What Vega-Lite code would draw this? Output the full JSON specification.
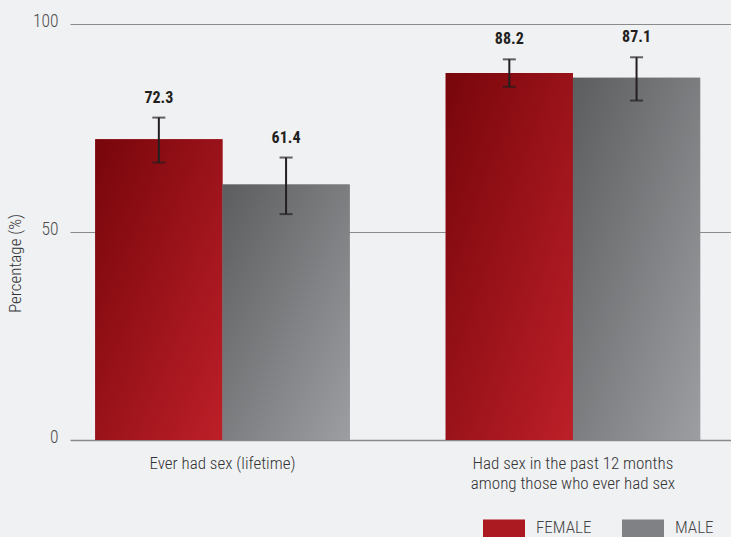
{
  "$schema": "https://vega.github.io/schema/vega-lite/v6.json",
  "width": 661,
  "height": 416,
  "autosize": {"type": "none"},
  "padding": {"left": 70, "top": 24, "right": 0, "bottom": 97},
  "background": "#f0f1f3",
  "config": {
    "view": {"stroke": null},
    "font": "Roboto Condensed, Liberation Sans Narrow, Roboto"
  },
  "data": {
    "values": [
      {"measure": "Ever had sex (lifetime)", "sex": "FEMALE", "value": 72.3, "lower": 66.7, "upper": 77.5},
      {"measure": "Ever had sex (lifetime)", "sex": "MALE", "value": 61.4, "lower": 54.3, "upper": 67.9},
      {"measure": "Had sex in the past 12 months among those who ever had sex", "sex": "FEMALE", "value": 88.2, "lower": 84.9, "upper": 91.5},
      {"measure": "Had sex in the past 12 months among those who ever had sex", "sex": "MALE", "value": 87.1, "lower": 81.6, "upper": 92.0}
    ]
  },
  "encoding": {
    "x": {
      "field": "measure",
      "type": "nominal",
      "sort": null,
      "scale": {"paddingInner": 0.274, "paddingOuter": 0.08, "align": 0.45},
      "axis": {
        "title": null,
        "domain": false,
        "ticks": false,
        "labelAngle": 0,
        "labelPadding": 15,
        "labelFontSize": 17,
        "labelFontWeight": 300,
        "labelColor": "#333333",
        "labelLineHeight": 20,
        "labelLimit": 400,
        "labelExpr": "datum.value == 'Had sex in the past 12 months among those who ever had sex' ? ['Had sex in the past 12 months', 'among those who ever had sex'] : datum.label"
      }
    },
    "xOffset": {
      "field": "sex",
      "type": "nominal",
      "sort": ["FEMALE", "MALE"],
      "scale": {"domain": ["FEMALE", "MALE"], "paddingInner": 0, "paddingOuter": 0}
    }
  },
  "layer": [
    {
      "mark": {"type": "bar"},
      "encoding": {
        "y": {
          "field": "value",
          "type": "quantitative",
          "scale": {"domain": [0, 100]},
          "axis": {
            "values": [0, 50, 100],
            "grid": true,
            "gridColor": "#8a8a8a",
            "gridWidth": {"condition": {"test": "datum.value === 0", "value": 1.6}, "value": 1},
            "domain": false,
            "ticks": false,
            "labelPadding": 12,
            "labelOffset": -3,
            "labelFontSize": 17.5,
            "labelFontWeight": 300,
            "labelColor": "#4d4d4d",
            "title": "Percentage (%)",
            "titleFontSize": 17,
            "titleFontWeight": 300,
            "titleColor": "#333333",
            "titleX": -50,
            "titleY": 239,
            "titleAngle": -90,
            "titleAlign": "center",
            "titleBaseline": "alphabetic"
          }
        },
        "fill": {
          "field": "sex",
          "type": "nominal",
          "scale": {"domain": ["FEMALE", "MALE"], "range": ["#ab1921", "#808184"]},
          "legend": {
            "orient": "none",
            "legendX": 413,
            "legendY": 483,
            "direction": "horizontal",
            "title": null,
            "symbolType": "M-1,-0.43H1V0.43H-1Z",
            "symbolSize": 1764,
            "symbolStrokeWidth": 0,
            "labelFontSize": 17,
            "labelFontWeight": 300,
            "labelColor": "#444444",
            "labelOffset": 11,
            "columnPadding": 30,
            "encode": {
              "symbols": {
                "update": {
                  "fill": {"signal": "datum.value === 'FEMALE' ? {gradient: 'linear', x1: 0, y1: 0, x2: 1, y2: 0, stops: [{offset: 0, color: '#9a141b'}, {offset: 1, color: '#bf1f28'}]} : {gradient: 'linear', x1: 0, y1: 0, x2: 1, y2: 0, stops: [{offset: 0, color: '#5f6062'}, {offset: 1, color: '#a0a1a4'}]}"}
                }
              }
            }
          }
        }
      }
    },
    {
      "transform": [{"filter": "datum.sex === 'FEMALE'"}],
      "mark": {"type": "bar", "fill": {"gradient": "linear", "x1": 0, "y1": 0, "x2": 1, "y2": 1, "stops": [{"offset": 0, "color": "#77060b"}, {"offset": 1, "color": "#bd1f28"}]}},
      "encoding": {"y": {"field": "value", "type": "quantitative"}}
    },
    {
      "transform": [{"filter": "datum.sex === 'MALE'"}],
      "mark": {"type": "bar", "fill": {"gradient": "linear", "x1": 0, "y1": 0, "x2": 1, "y2": 1, "stops": [{"offset": 0, "color": "#5c5d5f"}, {"offset": 1, "color": "#9d9ea1"}]}},
      "encoding": {"y": {"field": "value", "type": "quantitative"}}
    },
    {
      "mark": {"type": "rule", "color": "#231f20", "strokeWidth": 2},
      "encoding": {
        "y": {"field": "lower", "type": "quantitative"},
        "y2": {"field": "upper"}
      }
    },
    {
      "mark": {"type": "tick", "color": "#231f20", "thickness": 2, "size": 13},
      "encoding": {
        "y": {"field": "lower", "type": "quantitative"}
      }
    },
    {
      "mark": {"type": "tick", "color": "#231f20", "thickness": 2, "size": 13},
      "encoding": {
        "y": {"field": "upper", "type": "quantitative"}
      }
    },
    {
      "mark": {"type": "text", "dy": -20, "fontWeight": "bold", "fontSize": 16, "color": "#231f20"},
      "encoding": {
        "y": {"field": "upper", "type": "quantitative"},
        "text": {"field": "value", "type": "quantitative", "format": ".1f"}
      }
    }
  ]
}
